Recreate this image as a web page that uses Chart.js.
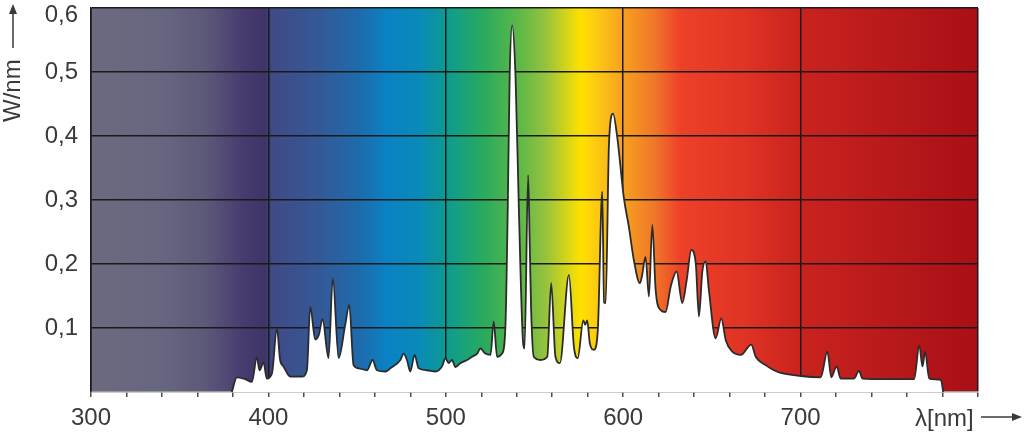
<!DOCTYPE html>
<html>
<head>
<meta charset="utf-8">
<title>Spectral power distribution</title>
<script src="https://cdn.jsdelivr.net/npm/chart.js@4.4.1/dist/chart.umd.min.js"></script>
<style>
    html, body { margin: 0; padding: 0; background: #ffffff; }
    #wrap { position: relative; width: 1024px; height: 437px; }
</style>
</head>
<body>
<div id="wrap"><canvas id="spectrumChart"></canvas></div>
<script>
// Lamp spectrum (wavelength in nm, power in W/nm).
const wavelengthNm = [
    379.4, 382.2, 386.9, 390.7, 393.5, 395.0, 397.3, 399.1, 402.0, 404.8,
    406.6, 408.5, 412.3, 418.9, 421.7, 423.6, 426.4, 428.5, 430.5, 433.9,
    436.3, 439.6, 443.3, 445.6, 448.0, 450.9, 455.6, 458.7, 461.2, 465.9,
    468.7, 474.4, 476.2, 478.1, 480.0, 482.4, 484.7, 489.4, 494.1, 497.9,
    499.8, 501.6, 503.5, 505.4, 508.2, 512.0, 514.8, 517.7, 519.5, 522.3,
    525.2, 527.0, 528.9, 531.7, 533.6, 534.9, 536.0, 537.4, 539.3, 541.2,
    543.6, 544.4, 546.4, 547.3, 548.1, 549.6, 553.4, 557.2, 559.4, 561.8,
    564.3, 569.4, 572.2, 574.4, 577.5, 578.6, 579.7, 581.2, 583.5, 585.7,
    588.2, 589.2, 590.1, 592.0, 594.3, 596.6, 597.5, 600.3, 603.2, 606.0,
    609.4, 610.5, 612.6, 614.5, 616.4, 618.3, 621.1, 623.9, 626.8, 630.1,
    633.3, 635.8, 638.4, 640.9, 642.7, 644.6, 646.5, 648.3, 652.1, 655.3,
    657.8, 661.5, 666.3, 672.2, 674.7, 680.3, 685.0, 688.8, 700.0, 711.3,
    715.1, 717.3, 720.3, 722.6, 730.1, 732.9, 734.9, 747.1, 764.0, 766.9,
    768.7, 770.2, 772.5, 779.1, 780.4
];
const powerWPerNm = [
    0.000, 0.023, 0.020, 0.016, 0.054, 0.034, 0.046, 0.021, 0.029, 0.099,
    0.050, 0.040, 0.024, 0.024, 0.034, 0.133, 0.082, 0.090, 0.114, 0.053,
    0.178, 0.053, 0.105, 0.136, 0.042, 0.037, 0.034, 0.050, 0.034, 0.032,
    0.037, 0.050, 0.060, 0.050, 0.032, 0.058, 0.037, 0.034, 0.032, 0.040,
    0.053, 0.045, 0.050, 0.039, 0.045, 0.050, 0.055, 0.060, 0.068, 0.060,
    0.058, 0.110, 0.055, 0.060, 0.102, 0.284, 0.493, 0.573, 0.493, 0.284,
    0.076, 0.068, 0.339, 0.232, 0.128, 0.055, 0.050, 0.055, 0.170, 0.055,
    0.045, 0.183, 0.071, 0.053, 0.112, 0.105, 0.112, 0.076, 0.066, 0.097,
    0.313, 0.140, 0.139, 0.389, 0.435, 0.399, 0.378, 0.305, 0.258, 0.206,
    0.170, 0.180, 0.211, 0.149, 0.261, 0.159, 0.128, 0.125, 0.165, 0.188,
    0.139, 0.175, 0.222, 0.201, 0.118, 0.188, 0.204, 0.159, 0.084, 0.115,
    0.081, 0.063, 0.058, 0.074, 0.055, 0.042, 0.034, 0.030, 0.025, 0.023,
    0.063, 0.023, 0.040, 0.021, 0.021, 0.033, 0.021, 0.020, 0.020, 0.073,
    0.040, 0.063, 0.021, 0.019, 0.000
];

const xLabelValues = [300, 400, 500, 600, 700];
const yLabelValues = [0.1, 0.2, 0.3, 0.4, 0.5, 0.6];
const yLabelTexts = ['0,1', '0,2', '0,3', '0,4', '0,5', '0,6'];

// colour band behind the plot, keyed by wavelength
const bandNm = [300, 340, 365, 387, 398, 402, 430, 452, 467, 485, 500, 522, 543, 556, 576, 588, 600, 618, 632, 667, 700, 800];
const bandColors = ['#6b6a7f', '#676680', '#5c5879', '#463a6f', '#3f3468', '#404a87', '#335a98', '#1d6cad', '#0a82c4',
    '#0a8ab8', '#0d9a92', '#2aab5c', '#62b946', '#95c23e', '#ffe100', '#fbc215', '#f7a01f', '#f07628', '#ee4129',
    '#e03424', '#c9231f', '#a90f16'];

const textColor = '#3a3a3a';
const fontFamily = "'Liberation Sans', Arial, Helvetica, sans-serif";

const spectrumBackground = {
    id: 'spectrumBackground',
    beforeDraw(chart) {
        const { ctx, chartArea, scales } = chart;
        const width = chartArea.right - chartArea.left;
        const grad = ctx.createLinearGradient(chartArea.left, 0, chartArea.right, 0);
        bandNm.forEach((nm, i) => {
            const offset = (scales.x.getPixelForValue(nm) - chartArea.left) / width;
            grad.addColorStop(Math.min(1, Math.max(0, offset)), bandColors[i]);
        });
        ctx.save();
        ctx.fillStyle = grad;
        ctx.fillRect(chartArea.left, chartArea.top, width, chartArea.bottom - chartArea.top);
        ctx.restore();
    }
};

function arrowHead(ctx, x, y, dx, dy) {
    // dx,dy: unit direction of the arrow
    const len = 10, half = 4;
    ctx.beginPath();
    ctx.moveTo(x, y);
    ctx.lineTo(x - dx * len - dy * half, y - dy * len + dx * half);
    ctx.lineTo(x - dx * len + dy * half, y - dy * len - dx * half);
    ctx.closePath();
    ctx.fill();
}

const axisTitles = {
    id: 'axisTitles',
    afterDraw(chart) {
        const { ctx, chartArea } = chart;
        ctx.save();
        ctx.fillStyle = textColor;
        ctx.strokeStyle = textColor;
        ctx.lineWidth = 1.5;
        ctx.font = `24px ${fontFamily}`;

        // x title: λ[nm] with arrow to the right
        const xy = chartArea.bottom + 26;
        ctx.textAlign = 'left';
        ctx.textBaseline = 'middle';
        ctx.fillText('λ[nm]', chartArea.right - 63, xy + 1);
        ctx.beginPath();
        ctx.moveTo(chartArea.right + 3, xy - 1);
        ctx.lineTo(chartArea.right + 36, xy - 1);
        ctx.stroke();
        arrowHead(ctx, chartArea.right + 44, xy - 1, 1, 0);

        // y title: W/nm rotated, arrow pointing up
        const tx = 13;
        ctx.save();
        ctx.translate(tx, 122);
        ctx.rotate(-Math.PI / 2);
        ctx.fillText('W/nm', 0, 0);
        ctx.restore();
        ctx.beginPath();
        ctx.moveTo(tx, 48);
        ctx.lineTo(tx, 13);
        ctx.stroke();
        arrowHead(ctx, tx, 4, 0, -1);
        ctx.restore();
    }
};

const points = wavelengthNm.map((nm, i) => ({ x: nm, y: powerWPerNm[i] }));

new Chart(document.getElementById('spectrumChart'), {
    type: 'line',
    data: {
        datasets: [{
            label: 'W/nm',
            data: points,
            borderColor: '#2b2b2b',
            borderWidth: 1.8,
            backgroundColor: '#ffffff',
            fill: 'origin',
            pointRadius: 0,
            cubicInterpolationMode: 'monotone'
        }]
    },
    options: {
        responsive: true,
        maintainAspectRatio: false,
        animation: false,
        layout: { padding: { top: 8, right: 46, left: 0, bottom: 0 } },
        plugins: { legend: { display: false }, tooltip: { enabled: false } },
        scales: {
            x: {
                type: 'linear',
                min: 300,
                max: 800,
                afterFit: (scale) => { scale.height = 45; },
                border: { color: '#9a9a9a', width: 1.5 },
                grid: {
                    color: (c) => (c.tick && c.tick.value % 100 === 0 ? '#1a1a1a' : 'rgba(0,0,0,0)'),
                    lineWidth: 1.5,
                    tickColor: '#4a4a4a',
                    tickLength: 5,
                    tickWidth: 1.5
                },
                ticks: {
                    stepSize: 20,
                    autoSkip: false,
                    maxRotation: 0,
                    padding: 7,
                    color: textColor,
                    font: { size: 24, family: fontFamily },
                    callback: (v) => (xLabelValues.includes(v) ? String(v) : '')
                }
            },
            y: {
                min: 0,
                max: 0.6,
                afterFit: (scale) => {
                    scale.width = 91;
                    scale.paddingTop = 0;
                    scale.paddingBottom = 0;
                },
                border: { color: '#1a1a1a', width: 1.5 },
                grid: {
                    color: (c) => (c.tick && Math.abs(c.tick.value) < 1e-9 ? 'rgba(0,0,0,0)' : '#1a1a1a'),
                    lineWidth: 1.5,
                    drawTicks: false
                },
                ticks: {
                    stepSize: 0.1,
                    padding: 13,
                    color: textColor,
                    font: { size: 24, family: fontFamily, lineHeight: 0.6 },
                    callback: (v) => {
                        const i = yLabelValues.findIndex((t) => Math.abs(t - v) < 1e-9);
                        if (i < 0) return '';
                        // top label sits a little below its grid line, as in the original
                        return i === yLabelValues.length - 1 ? ['', yLabelTexts[i]] : yLabelTexts[i];
                    }
                }
            }
        }
    },
    plugins: [spectrumBackground, axisTitles]
});
</script>
</body>
</html>
